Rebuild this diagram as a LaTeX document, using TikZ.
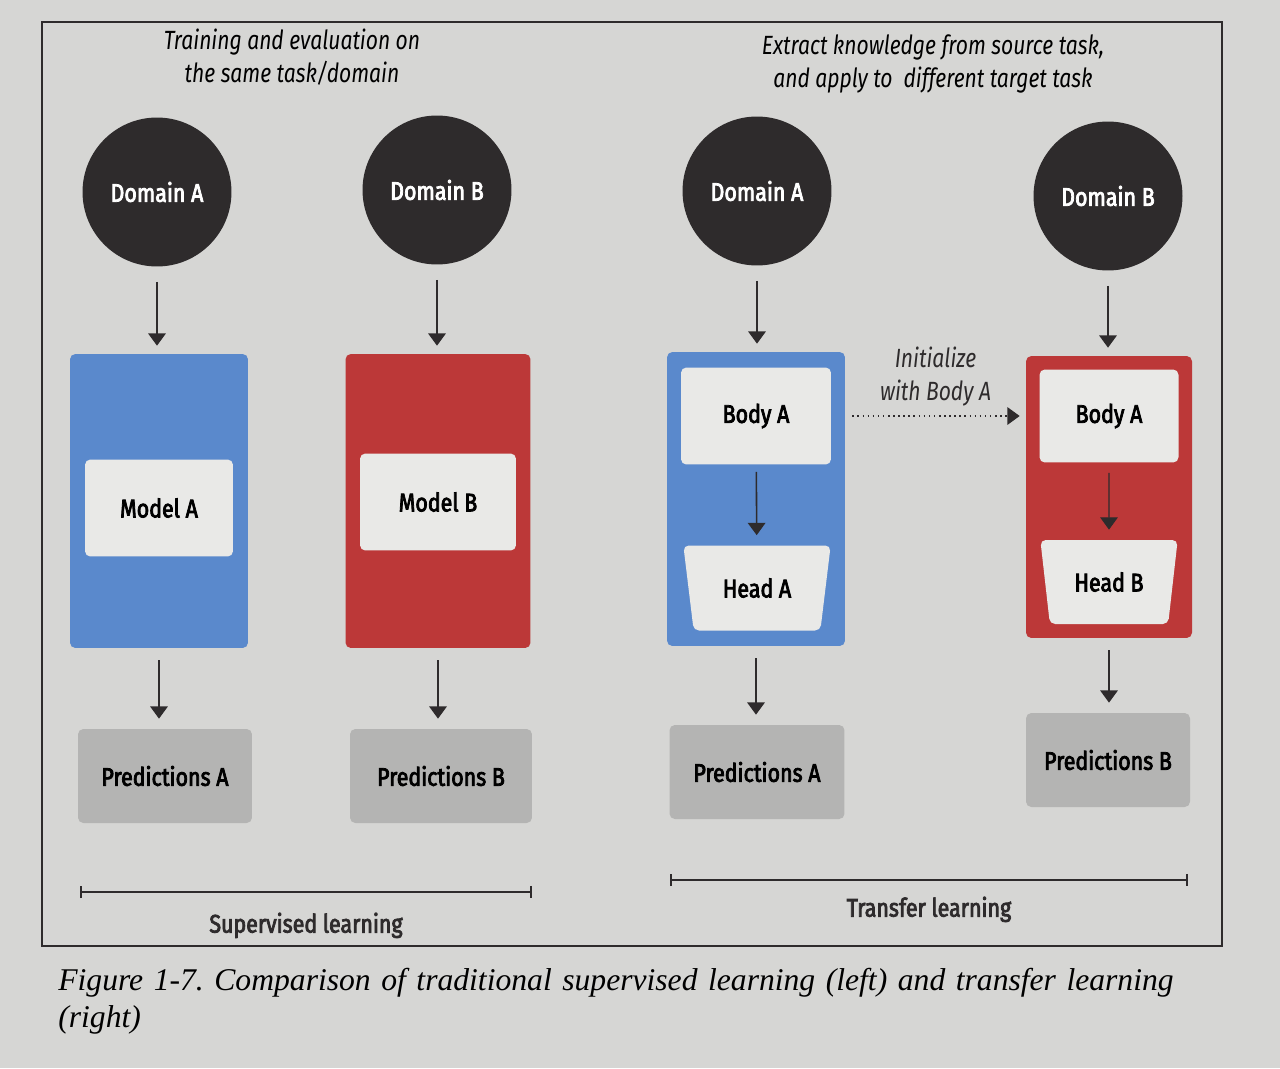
\documentclass[tikz,border=0pt]{standalone}
\usepackage{fontspec}
\usetikzlibrary{arrows.meta,shapes.geometric}
\newfontfamily\figfont[FakeStretch=0.84, FakeBold=3]{Fira Sans}
\newfontfamily\notefont[FakeStretch=0.80]{Fira Sans}
\newfontfamily\capfont{Liberation Serif}
\frenchspacing

\definecolor{pagegray}{RGB}{214,214,212}
\definecolor{domaindark}{RGB}{46,43,44}
\definecolor{modelblue}{RGB}{90,137,204}
\definecolor{modelred}{RGB}{188,56,56}
\definecolor{innerwhite}{RGB}{233,233,231}
\definecolor{predgray}{RGB}{180,180,179}

\begin{document}
\begin{tikzpicture}[x=0.02cm, y=-0.02cm,
  domainnode/.style={circle, fill=domaindark, text=white, minimum size=2.98cm, inner sep=0pt,
    font=\figfont\fontsize{14.5}{17}\selectfont},
  modelbox/.style={rounded corners=3pt, minimum height=5.88cm, inner sep=0pt},
  innerbox/.style={fill=innerwhite, rounded corners=3pt, inner sep=0pt,
    font=\figfont\fontsize{14.5}{17}\selectfont},
  headbox/.style={trapezium, shape border rotate=180, trapezium stretches=true,
    trapezium left angle=74, trapezium right angle=74, fill=innerwhite,
    rounded corners=3pt, inner sep=0pt, minimum height=1.7cm,
    font=\figfont\fontsize{14.5}{17}\selectfont},
  predbox/.style={fill=predgray, rounded corners=3pt, minimum height=1.88cm, inner sep=0pt,
    font=\figfont\fontsize{14.5}{17}\selectfont},
  flowarrow/.style={-{Triangle[width=10pt,length=7pt]}, line width=0.9pt, domaindark},
  notetext/.style={align=center, font=\notefont\itshape\fontsize{15}{19}\selectfont},
  spanline/.style={|-|, line width=1pt, domaindark}]

  % --- page and frame ---
  \fill[pagegray] (0,0) rectangle (1280,1068);
  \useasboundingbox (0,0) rectangle (1280,1068);
  \draw[line width=1pt, domaindark] (42,22) rectangle (1222,946);

  % --- notes on top ---
  \node[notetext] (notesup) at (292,57) {Training and evaluation on\\the same task/domain};
  \node[notetext] (notetl) at (933,64) {Extract knowledge from source task,\\and apply to\ \ different target task};

  % --- supervised learning: domain A ---
  \node[domainnode] (domA) at (157,192) {Domain A};
  \node[modelbox, fill=modelblue, minimum width=3.56cm] (boxA) at (159,501) {};
  \node[innerbox, minimum width=2.96cm, minimum height=1.94cm] (modelA) at (159,508) {Model A};
  \node[predbox, minimum width=3.48cm] (predA) at (165,776) {Predictions A};

  % --- supervised learning: domain B ---
  \node[domainnode] (domB) at (437,190) {Domain B};
  \node[modelbox, fill=modelred, minimum width=3.7cm] (boxB) at (438,501) {};
  \node[innerbox, minimum width=3.12cm, minimum height=1.94cm] (modelB) at (438,502) {Model B};
  \node[predbox, minimum width=3.64cm] (predB) at (441,776) {Predictions B};

  % --- transfer learning: source ---
  \node[domainnode] (domC) at (757,191) {Domain A};
  \node[modelbox, fill=modelblue, minimum width=3.56cm] (boxC) at (756,499) {};
  \node[innerbox, minimum width=3.0cm, minimum height=1.94cm] (bodyC) at (756,416) {Body A};
  \node[headbox, minimum width=2.96cm] (headC) at (757,588) {Head A};
  \node[predbox, minimum width=3.5cm] (predC) at (757,772) {Predictions A};

  % --- transfer learning: target ---
  \node[domainnode] (domD) at (1108,196) {Domain B};
  \node[modelbox, fill=modelred, minimum width=3.32cm, minimum height=5.64cm] (boxD) at (1109,497) {};
  \node[innerbox, minimum width=2.78cm, minimum height=1.86cm] (bodyD) at (1109,416) {Body A};
  \node[headbox, minimum width=2.76cm, minimum height=1.68cm] (headD) at (1109,582) {Head B};
  \node[predbox, minimum width=3.28cm] (predD) at (1108,760) {Predictions B};

  % --- flow arrows ---
  \foreach \d/\b/\p in {domA/boxA/predA, domB/boxB/predB, domC/boxC/predC, domD/boxD/predD} {
    \draw[flowarrow, shorten <=0.3cm, shorten >=0.16cm] (\d) -- (\d |- \b.north);
    \draw[flowarrow, shorten <=0.24cm, shorten >=0.2cm] (\b.south) -- (\b.south |- \p.north);
  }
  \draw[flowarrow, shorten <=0.14cm, shorten >=0.2cm] (bodyC) -- (headC);
  \draw[flowarrow, line width=0.7pt, shorten <=0.2cm, shorten >=0.2cm] (bodyD) -- (headD);

  % --- initialize with body A ---
  \draw[flowarrow, dotted, line width=0.8pt, shorten <=0.14cm, shorten >=0.12cm]
        (boxC.east |- bodyC) -- (boxD.west |- bodyC)
        node[midway, above=0.06cm, notetext, solid] {Initialize\\with Body A};

  % --- spans and their labels ---
  \coordinate (supL) at (80,892);
  \coordinate (supR) at (532,892);
  \coordinate (tlL) at (670,880);
  \coordinate (tlR) at (1188,880);
  \draw[spanline] (supL) -- (supR)
        node[midway, below=0.28cm, font=\figfont\fontsize{14.5}{17}\selectfont] {Supervised learning};
  \draw[spanline] (tlL) -- (tlR)
        node[midway, below=0.2cm, font=\figfont\fontsize{14.5}{17}\selectfont] {Transfer learning};

  % --- caption ---
  \node[anchor=north west, align=left, text width=23cm, inner sep=0pt,
        font=\capfont\itshape\fontsize{18}{21}\selectfont] (caption) at (58,968)
        {Figure 1-7. Comparison of traditional supervised learning (left) and transfer learning (right)};

\end{tikzpicture}
\end{document}
